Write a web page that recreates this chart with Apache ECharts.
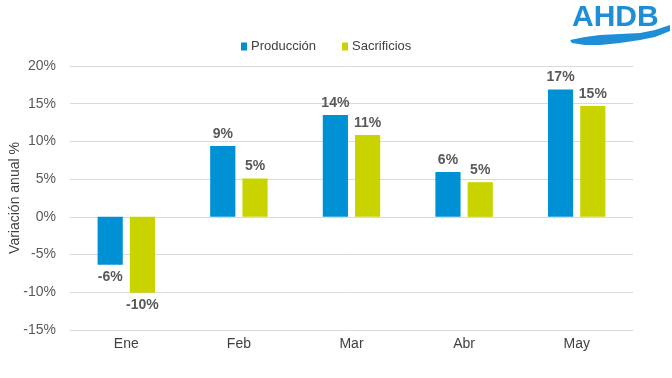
<!DOCTYPE html>
<html>
<head>
<meta charset="utf-8">
<script src="https://cdn.jsdelivr.net/npm/echarts@6/dist/echarts.min.js"></script>
<style>html,body{margin:0;padding:0;background:#fff}#c{width:672px;height:378px}</style>
</head>
<body>
<div id="c"></div>
<script>
const categories = ['Ene', 'Feb', 'Mar', 'Abr', 'May'];
const produccion = [-6.35, 9.4, 13.5, 5.95, 16.9];
const sacrificios = [-10.05, 5.1, 10.85, 4.6, 14.7];
const seriesNames = ['Producción', 'Sacrificios'];
const yTicks = { min: -15, max: 20, interval: 5 };

const chart = echarts.init(document.getElementById('c'), null, { renderer: 'canvas' });
const font = '"Liberation Sans", Arial, sans-serif';
function items(arr) {
  return arr.map(v => ({ value: v, label: { position: v < 0 ? 'bottom' : 'top' } }));
}
const labelCfg = {
  show: true, fontFamily: font, fontSize: 14, fontWeight: 'bold', color: '#595959', distance: 5,
  formatter: p => Math.round(p.value) + '%'
};
chart.setOption({
  animation: false,
  textStyle: { fontFamily: font },
  legend: {
    top: 40, left: 241, padding: 0, itemWidth: 6, itemHeight: 8, itemGap: 26,
    icon: 'rect',
    textStyle: { fontFamily: font, fontSize: 13, color: '#404040', padding: [0, 0, 0, -1] },
    data: seriesNames
  },
  grid: { left: 70, right: 39, top: 66, bottom: 48, containLabel: false, outerBoundsMode: 'none' },
  xAxis: {
    type: 'category', data: categories,
    axisLine: { show: false }, axisTick: { show: false },
    axisLabel: { fontFamily: font, fontSize: 14, color: '#404040', margin: 7 },
    position: 'bottom'
  },
  yAxis: {
    type: 'value', min: yTicks.min, max: yTicks.max, interval: yTicks.interval,
    name: 'Variación anual %', nameLocation: 'middle', nameGap: 48, nameRotate: 90,
    nameMoveOverlap: false,
    nameTextStyle: { fontFamily: font, fontSize: 14, color: '#404040' },
    axisLabel: { formatter: '{value}%', fontFamily: font, fontSize: 14, color: '#595959', margin: 14 },
    axisLine: { show: false }, axisTick: { show: false },
    splitLine: { lineStyle: { color: '#d9d9d9', width: 1 } }
  },
  series: [
    { name: seriesNames[0], type: 'bar', data: items(produccion), itemStyle: { color: '#0090D4' },
      barGap: '28%', barCategoryGap: '49%', label: labelCfg },
    { name: seriesNames[1], type: 'bar', data: items(sacrificios), itemStyle: { color: '#C9D300' },
      barGap: '28%', barCategoryGap: '49%', label: labelCfg }
  ],
  graphic: [
    { type: 'text', x: 572, y: 3, style: { text: 'AHDB', font: 'bold 30px "Liberation Sans", Arial, sans-serif', fill: '#1E8FD6' } },
    { type: 'polygon', shape: { points: [[570,40],[585,37],[600,35],[620,34],[640,33],[655,30],[670,25],
      [670,31],[655,37],[640,40],[620,43],[600,45],[585,45],[572,43]] },
      style: { fill: '#1E8FD6' } }
  ]
});
</script>
</body>
</html>
